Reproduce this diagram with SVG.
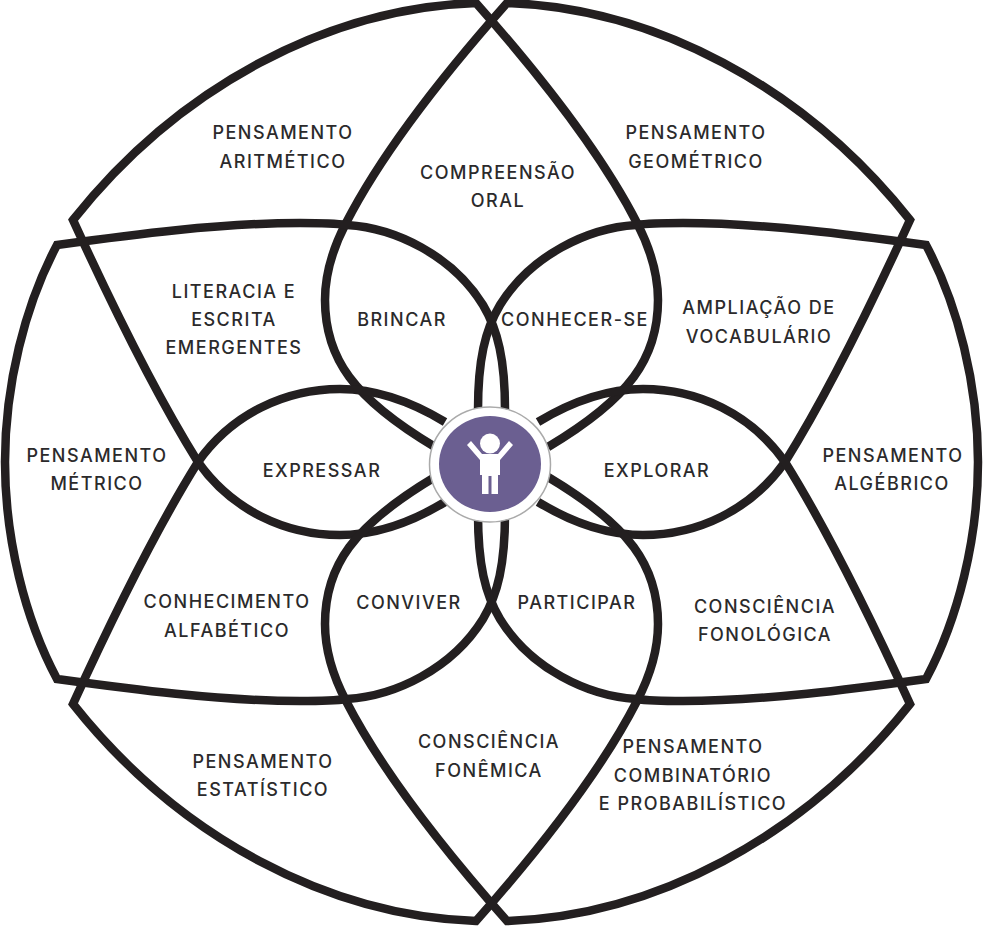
<svg xmlns="http://www.w3.org/2000/svg" width="984" height="926" viewBox="0 0 984 926">
<style>
.p{fill:none;stroke:#231f20;stroke-width:8.500;stroke-linejoin:miter}
text{font-family:"Inter","Liberation Sans",sans-serif;font-size:18px;font-weight:500;fill:#2b2a2b;letter-spacing:1.500px;text-anchor:middle}
</style>
<defs>
<path id="outer" class="p" d="M548,447 C630,398 658,358 658,300 C658,275 650,248 637,223 C597,145 531,65 476,3 C330,8 180,85 73,220 C105,290 150,385 198,462 C232,510 285,535 340,535 C375,535 412,522 445,502"/>
<path id="side" class="p" d="M505,410 C505,360 498,330 483,305 C452,255 395,228 347,225 C340,224 320,223 300,223 C220,223 130,235 57,245 C25,305 5,385 5,462 C5,539 25,619 57,679 C130,689 220,701 300,701 C320,701 340,700 347,699 C395,696 452,669 483,619 C498,594 505,564 505,514"/>
</defs>
<rect width="984" height="926" fill="#fff"/>
<g id="connectors">
<use href="#outer"/>
<use href="#outer" transform="matrix(-1 0 0 1 983 0)"/>
<use href="#outer" transform="matrix(1 0 0 -1 0 924)"/>
<use href="#outer" transform="matrix(-1 0 0 -1 983 924)"/>
<use href="#side"/>
<use href="#side" transform="matrix(-1 0 0 1 983 0)"/>
</g>
<g id="center">
<ellipse cx="490" cy="464.500" rx="60.500" ry="57.500" fill="#fff" stroke="#aaa" stroke-width="1.500"/>
<ellipse cx="490" cy="464" rx="51" ry="48" fill="#6b5f91"/>
<circle cx="490" cy="443.500" r="10" fill="#fff"/>
<path fill="#fff" d="M467,445 L471,441 L482,454 H498 L509,441 L513,445 L500,460 V475 H498 V494 H491.500 V476 H488.500 V494 H482 V475 H480 V460 Z"/>
</g>
<g id="n1"><text x="283" y="139">PENSAMENTO</text><text x="283" y="168">ARITMÉTICO</text></g>
<g id="n2"><text x="696" y="139">PENSAMENTO</text><text x="696" y="168">GEOMÉTRICO</text></g>
<g id="n3"><text x="498" y="179">COMPREENSÃO</text><text x="498" y="207">ORAL</text></g>
<g id="n4"><text x="234" y="298">LITERACIA E</text><text x="234" y="326">ESCRITA</text><text x="234" y="354">EMERGENTES</text></g>
<g id="n5"><text x="402" y="326">BRINCAR</text></g>
<g id="n6"><text x="575" y="326">CONHECER-SE</text></g>
<g id="n7"><text x="759" y="314">AMPLIAÇÃO DE</text><text x="759" y="343">VOCABULÁRIO</text></g>
<g id="n8"><text x="97" y="462">PENSAMENTO</text><text x="97" y="490">MÉTRICO</text></g>
<g id="n9"><text x="322" y="477">EXPRESSAR</text></g>
<g id="n10"><text x="657" y="477">EXPLORAR</text></g>
<g id="n11"><text x="893" y="462">PENSAMENTO</text><text x="892" y="490">ALGÉBRICO</text></g>
<g id="n12"><text x="227" y="608">CONHECIMENTO</text><text x="227" y="637">ALFABÉTICO</text></g>
<g id="n13"><text x="409" y="609">CONVIVER</text></g>
<g id="n14"><text x="577" y="609">PARTICIPAR</text></g>
<g id="n15"><text x="765" y="613">CONSCIÊNCIA</text><text x="765" y="641">FONOLÓGICA</text></g>
<g id="n16"><text x="263" y="768">PENSAMENTO</text><text x="263" y="796">ESTATÍSTICO</text></g>
<g id="n17"><text x="489" y="748">CONSCIÊNCIA</text><text x="489" y="777">FONÊMICA</text></g>
<g id="n18"><text x="693" y="753">PENSAMENTO</text><text x="693" y="782">COMBINATÓRIO</text><text x="693" y="810">E PROBABILÍSTICO</text></g>
</svg>
